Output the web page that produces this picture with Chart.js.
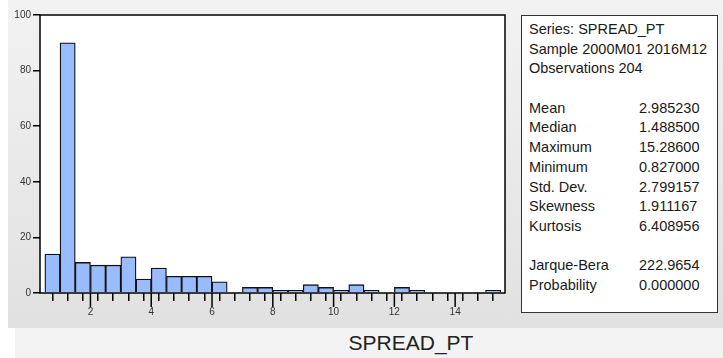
<!DOCTYPE html>
<html>
<head>
<meta charset="utf-8">
<script src="https://cdn.jsdelivr.net/npm/chart.js@4"></script>
<style>
  body { margin: 0; width: 723px; height: 358px; background: #fff; position: relative; overflow: hidden; font-family: "Liberation Sans", Arial, sans-serif; }
  #bg { position: absolute; left: 8px; top: 0; width: 715px; height: 328px; background: linear-gradient(#f2f2f2, #e1e1e1); }
  #band { position: absolute; left: 15px; top: 328px; width: 708px; height: 30px; background: #f3f3f3; }
  #xtitle { position: absolute; left: 311px; width: 200px; top: 331px; text-align: center; font-size: 21px; color: #222; }
  #wrap { position: absolute; left: 0; top: 0; width: 723px; height: 330px; }
  #stats { position: absolute; left: 521px; top: 15px; width: 195px; height: 292px; border: 1.5px solid #333; background: #fff; padding-top: 4px; box-sizing: content-box; font-size: 14.5px; color: #1a1a1a; }
  #stats div { height: 19.7px; line-height: 19.7px; white-space: nowrap; padding-left: 7px; position: relative; }
  #stats span.v { position: absolute; left: 117px; }
</style>
</head>
<body>
<div id="bg"></div>
<div id="band"></div>
<div id="xtitle">SPREAD_PT</div>
<div id="wrap"><canvas id="hist" width="723" height="330"></canvas></div>
<div id="stats"></div>
<script>
// === DATA ===
const binCenters = [0.75, 1.25, 1.75, 2.25, 2.75, 3.25, 3.75, 4.25, 4.75, 5.25,
  5.75, 6.25, 6.75, 7.25, 7.75, 8.25, 8.75, 9.25, 9.75, 10.25,
  10.75, 11.25, 11.75, 12.25, 12.75, 13.25, 13.75, 14.25, 14.75, 15.25];
const counts = [14, 90, 11, 10, 10, 13, 5, 9, 6, 6,
  6, 4, 0, 2, 2, 1, 1, 3, 2, 1,
  3, 1, 0, 2, 1, 0, 0, 0, 0, 1];
const xMinorTicks = [0.5, 1, 1.5, 2, 2.5, 3, 3.5, 4, 4.5, 5, 5.5, 6, 6.5, 7, 7.5, 8,
  8.5, 9, 9.5, 10, 10.5, 11, 11.5, 12, 12.5, 13, 13.5, 14, 14.5, 15, 15.5];
const xMajorTicks = [2, 4, 6, 8, 10, 12, 14];
const yTicks = [0, 20, 40, 60, 80, 100];

const headerLines = ["Series: SPREAD_PT", "Sample 2000M01 2016M12", "Observations 204"];
const statNames = ["Mean", "Median", "Maximum", "Minimum", "Std. Dev.", "Skewness", "Kurtosis"];
const statValues = ["2.985230", "1.488500", "15.28600", "0.827000", "2.799157", "1.911167", "6.408956"];
const testNames = ["Jarque-Bera", "Probability"];
const testValues = ["222.9654", "0.000000"];

// === STATS BOX ===
const stats = document.getElementById("stats");
function addRow(label, value) {
  const d = document.createElement("div");
  d.textContent = label;
  if (value !== undefined) {
    const s = document.createElement("span");
    s.className = "v";
    s.textContent = value;
    d.appendChild(s);
  }
  stats.appendChild(d);
}
headerLines.forEach((t) => addRow(t));
addRow("");
statNames.forEach((n, i) => addRow(n, statValues[i]));
addRow("");
testNames.forEach((n, i) => addRow(n, testValues[i]));

// === CHART ===
Chart.defaults.font.family = "'Liberation Sans', Arial, sans-serif";
Chart.defaults.font.size = 10;
Chart.defaults.color = "#333";

const framePlugin = {
  id: "frame",
  beforeDraw(chart) {
    const { ctx, chartArea: a } = chart;
    ctx.save();
    ctx.fillStyle = "#fff";
    ctx.fillRect(a.left, a.top, a.right - a.left, a.bottom - a.top);
    ctx.restore();
  },
  afterDatasetsDraw(chart) {
    const { ctx, chartArea: a, scales } = chart;
    ctx.save();
    ctx.strokeStyle = "#000";
    ctx.lineWidth = 1.5;
    ctx.strokeRect(a.left, a.top, a.right - a.left, a.bottom - a.top);
    // longer ticks at the labelled values
    ctx.beginPath();
    xMajorTicks.forEach((v) => {
      const px = scales.x.getPixelForValue(v);
      ctx.moveTo(px, a.bottom);
      ctx.lineTo(px, a.bottom + 14);
    });
    ctx.stroke();
    ctx.restore();
  },
};

new Chart(document.getElementById("hist"), {
  type: "bar",
  data: {
    datasets: [{
      data: binCenters.map((x, i) => ({ x: x, y: counts[i] })),
      backgroundColor: "#99bbff",
      borderColor: "#111",
      borderWidth: 1.3,
      barPercentage: 1,
      categoryPercentage: 1,
    }],
  },
  options: {
    responsive: false,
    animation: false,
    devicePixelRatio: 1,
    layout: { padding: { top: 15, right: 218, bottom: 0, left: 0 } },
    plugins: { legend: { display: false }, tooltip: { enabled: false } },
    scales: {
      x: {
        type: "linear",
        min: 0.34,
        max: 15.64,
        offset: false,
        afterBuildTicks: (s) => { s.ticks = xMinorTicks.map((v) => ({ value: v })); },
        afterFit: (s) => { s.height = 37; },
        ticks: {
          autoSkip: false,
          maxRotation: 0,
          padding: 5,
          callback: (v) => (xMajorTicks.includes(v) ? String(v) : ""),
        },
        grid: { drawOnChartArea: false, drawTicks: true, tickLength: 8, color: "#000", lineWidth: 1.5 },
        border: { display: false },
      },
      y: {
        min: 0,
        max: 100,
        afterBuildTicks: (s) => { s.ticks = yTicks.map((v) => ({ value: v })); },
        afterFit: (s) => { s.width = 40; },
        ticks: { padding: 2 },
        grid: { drawOnChartArea: false, drawTicks: true, tickLength: 7, color: "#000", lineWidth: 1.5 },
        border: { display: false },
      },
    },
  },
  plugins: [framePlugin],
});
</script>
</body>
</html>
